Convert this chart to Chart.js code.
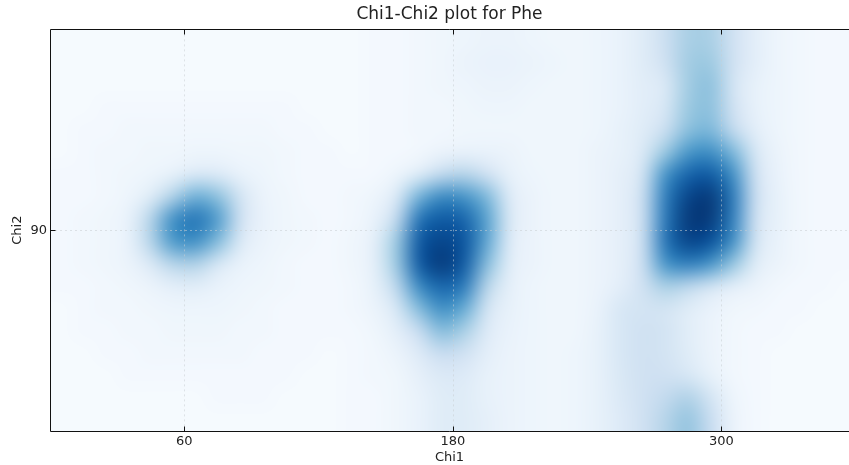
<!DOCTYPE html>
<html>
<head>
<meta charset="utf-8">
<script src="https://cdn.jsdelivr.net/npm/chart.js@4.4.1/dist/chart.umd.min.js"></script>
<style>
  html, body { margin: 0; padding: 0; background: #fff; }
</style>
</head>
<body>
<canvas id="chart" width="849" height="465"></canvas>
<script>
const chi1Ticks = [60, 180, 300];
const chi2Ticks = [90];
const chi1Range = [0, 357];
const chi2Range = [0, 180];
const binSize = 10;

// estimated density (0-100) in 10 degree bins
// rows: chi2 = 175 down to 5, columns: chi1 = 5 .. 355
const density = [
  [1,1,1,1,1,1,1,1,1,1,1,1,1,1,2,2,3,4,5,6,6,5,4,4,5,7,12,22,34,34,20,10,5,3,2,2],
  [1,1,1,1,1,1,1,1,1,1,1,1,1,1,2,2,3,4,6,7,7,6,5,4,5,7,12,20,36,38,20,10,5,3,2,2],
  [1,1,1,1,1,1,1,1,1,1,1,1,1,1,2,2,3,4,5,6,6,5,4,4,5,7,11,14,36,42,18,8,5,3,2,2],
  [1,1,2,2,2,2,2,2,2,2,2,1,1,1,2,2,3,3,4,5,5,4,4,4,5,7,11,16,38,42,20,8,5,3,2,2],
  [1,2,2,3,3,3,3,3,3,3,2,2,1,1,2,2,3,3,4,4,4,4,4,4,5,8,12,22,42,46,26,10,5,3,2,2],
  [1,2,3,3,4,4,5,5,4,4,3,2,2,1,2,2,3,6,7,7,6,4,4,4,6,8,14,38,60,64,46,16,6,3,2,2],
  [2,2,3,4,5,8,14,13,7,5,3,2,2,2,2,5,12,26,30,20,8,5,4,4,6,9,18,62,80,84,64,20,7,3,2,2],
  [2,2,3,5,12,32,50,42,18,6,4,2,2,3,5,14,48,66,62,46,13,6,4,4,6,9,22,70,92,96,72,22,8,3,2,2],
  [2,3,4,7,30,64,74,58,20,7,4,3,2,3,7,26,74,84,80,56,15,6,4,4,6,9,22,72,96,96,70,20,8,3,2,2],
  [2,3,4,7,30,60,64,44,14,6,4,3,2,4,9,38,84,92,86,54,13,6,4,4,6,9,22,74,92,88,64,18,7,3,2,2],
  [2,3,4,6,14,30,32,16,7,5,3,2,2,4,9,38,84,96,84,44,11,6,4,4,6,9,22,62,70,62,40,12,6,3,2,2],
  [2,2,3,4,6,10,11,7,5,4,3,2,2,3,8,28,66,80,72,30,9,5,4,4,6,10,20,34,28,18,10,6,3,2,2,1],
  [1,2,3,3,4,5,5,5,4,3,2,2,2,3,6,16,44,64,52,18,8,5,4,4,7,16,18,18,12,7,4,3,2,2,1,1],
  [1,2,2,3,3,4,4,4,3,3,2,2,2,2,4,10,24,44,34,13,7,5,4,4,8,16,20,18,11,6,3,2,2,1,1,1],
  [1,1,2,2,3,3,3,3,3,2,2,2,1,2,3,6,13,24,20,10,6,5,4,5,8,16,20,18,12,6,3,2,1,1,1,1],
  [1,1,1,2,2,2,2,2,2,2,2,1,1,2,3,4,9,14,13,8,6,5,4,5,8,15,20,20,16,8,3,2,1,1,1,1],
  [1,1,1,1,1,1,1,2,2,2,1,1,1,2,2,4,7,12,12,8,6,5,4,5,8,14,20,26,32,18,5,2,1,1,1,1],
  [1,1,1,1,1,1,1,1,1,1,1,1,1,2,2,4,7,12,12,9,6,5,4,5,8,13,20,30,40,24,6,2,1,1,1,1]
];

// matplotlib "Blues"
const bluesStops = [
  [247,251,255],[222,235,247],[198,219,239],[158,202,225],[107,174,214],
  [66,146,198],[33,113,181],[8,81,156],[8,48,107]
];
function blues(t) {
  t = Math.max(0, Math.min(1, t)) * (bluesStops.length - 1);
  const i = Math.min(bluesStops.length - 2, Math.floor(t));
  const f = t - i, a = bluesStops[i], b = bluesStops[i + 1];
  return [0, 1, 2].map(k => Math.round(a[k] + (b[k] - a[k]) * f));
}

const heatmap = {
  id: 'heatmap',
  beforeDatasetsDraw(chart) {
    const { ctx, chartArea: area, scales: { x, y } } = chart;
    const rows = density.length, cols = density[0].length;
    // one extra bin on every side, copied from the edge, so the blur has no hard border
    const off = document.createElement('canvas');
    off.width = cols + 2;
    off.height = rows + 2;
    const octx = off.getContext('2d');
    const img = octx.createImageData(cols + 2, rows + 2);
    for (let r = 0; r < rows + 2; r++) {
      for (let c = 0; c < cols + 2; c++) {
        const rr = Math.min(rows - 1, Math.max(0, r - 1));
        const cc = Math.min(cols - 1, Math.max(0, c - 1));
        const col = blues(density[rr][cc] / 100);
        const i = (r * (cols + 2) + c) * 4;
        img.data[i] = col[0]; img.data[i + 1] = col[1]; img.data[i + 2] = col[2]; img.data[i + 3] = 255;
      }
    }
    octx.putImageData(img, 0, 0);

    const x0 = x.getPixelForValue(-binSize), x1 = x.getPixelForValue((cols + 1) * binSize);
    const y0 = y.getPixelForValue((rows + 1) * binSize), y1 = y.getPixelForValue(-binSize);

    ctx.save();
    ctx.beginPath();
    ctx.rect(area.left, area.top, area.right - area.left, area.bottom - area.top);
    ctx.clip();
    ctx.imageSmoothingEnabled = true;
    ctx.imageSmoothingQuality = 'high';
    ctx.filter = 'blur(6px)';
    ctx.drawImage(off, x0, y0, x1 - x0, y1 - y0);
    ctx.filter = 'none';

    // dotted grid
    ctx.strokeStyle = 'rgba(200,205,210,0.55)';
    ctx.lineWidth = 1;
    ctx.setLineDash([2, 3]);
    chi1Ticks.forEach(v => {
      const px = Math.round(x.getPixelForValue(v)) + 0.5;
      ctx.beginPath(); ctx.moveTo(px, area.top); ctx.lineTo(px, area.bottom); ctx.stroke();
    });
    chi2Ticks.forEach(v => {
      const py = Math.round(y.getPixelForValue(v)) + 0.5;
      ctx.beginPath(); ctx.moveTo(area.left, py); ctx.lineTo(area.right, py); ctx.stroke();
    });
    ctx.restore();
  },
  afterDraw(chart) {
    const { ctx, chartArea: area, scales: { x, y } } = chart;
    const l = Math.round(area.left) + 0.5, t = Math.round(area.top) + 0.5, b = Math.round(area.bottom) + 0.5;
    ctx.save();
    ctx.strokeStyle = '#111';
    ctx.lineWidth = 1;
    ctx.beginPath();
    ctx.moveTo(area.right, t); ctx.lineTo(l, t); ctx.lineTo(l, b); ctx.lineTo(area.right, b);
    ctx.stroke();
    // inward ticks
    chi1Ticks.forEach(v => {
      const px = Math.round(x.getPixelForValue(v)) + 0.5;
      ctx.beginPath(); ctx.moveTo(px, b); ctx.lineTo(px, b - 5); ctx.stroke();
      ctx.beginPath(); ctx.moveTo(px, t); ctx.lineTo(px, t + 5); ctx.stroke();
    });
    chi2Ticks.forEach(v => {
      const py = Math.round(y.getPixelForValue(v)) + 0.5;
      ctx.beginPath(); ctx.moveTo(l, py); ctx.lineTo(l + 5, py); ctx.stroke();
    });
    ctx.restore();
  }
};

Chart.defaults.font.family = 'DejaVu Sans';
Chart.defaults.color = '#222';

new Chart(document.getElementById('chart'), {
  type: 'scatter',
  data: { datasets: [{ label: 'density', data: [], pointRadius: 0 }] },
  options: {
    responsive: false,
    animation: false,
    devicePixelRatio: 1,
    layout: { padding: 0 },
    plugins: {
      legend: { display: false },
      tooltip: { enabled: false },
      title: {
        display: true,
        text: 'Chi1-Chi2 plot for Phe',
        fullSize: false,
        font: { size: 17, weight: 'normal' },
        padding: { top: 4, bottom: 5 }
      }
    },
    scales: {
      x: {
        type: 'linear',
        min: chi1Range[0],
        max: chi1Range[1],
        afterBuildTicks: s => { s.ticks = chi1Ticks.map(v => ({ value: v })); },
        afterFit: s => { s.height = 34; },
        grid: { display: false, drawTicks: false },
        border: { display: false },
        ticks: { font: { size: 13 }, padding: 3, maxRotation: 0 },
        title: { display: true, text: 'Chi1', font: { size: 13 }, padding: 0 }
      },
      y: {
        type: 'linear',
        min: chi2Range[0],
        max: chi2Range[1],
        afterBuildTicks: s => { s.ticks = chi2Ticks.map(v => ({ value: v })); },
        afterFit: s => { s.width = 50; },
        grid: { display: false, drawTicks: false },
        border: { display: false },
        ticks: { font: { size: 13 }, padding: 3 },
        title: { display: true, text: 'Chi2', font: { size: 13 }, padding: { top: 10, bottom: 0 } }
      }
    }
  },
  plugins: [heatmap]
});
</script>
</body>
</html>
